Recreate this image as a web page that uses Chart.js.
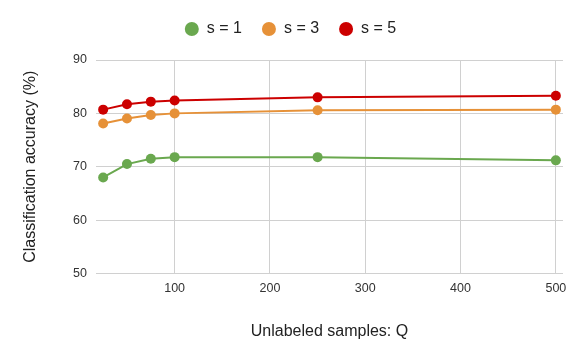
<!DOCTYPE html>
<html>
<head>
<meta charset="utf-8">
<script src="https://cdn.jsdelivr.net/npm/chart.js@4"></script>
<style>
  html, body { margin: 0; padding: 0; background: #fff; }
  #wrap { width: 581px; height: 362px; }
</style>
</head>
<body>
<div id="wrap"><canvas id="chart" width="581" height="362"></canvas></div>
<script>
  /* Data */
  const Q = [25, 50, 75, 100, 250, 500];
  const S1 = [68.0, 70.5, 71.5, 71.8, 71.8, 71.2];
  const S3 = [78.1, 79.05, 79.7, 80.0, 80.6, 80.7];
  const S5 = [80.7, 81.7, 82.2, 82.4, 83.0, 83.3];
  const X_TICKS = [100, 200, 300, 400, 500];
  const Y_TICKS = [50, 60, 70, 80, 90];

  const FONT = 'Arial, "Liberation Sans", sans-serif';

  function series(label, ys, color) {
    return {
      label: label,
      data: Q.map(function (q, i) { return { x: q, y: ys[i] }; }),
      borderColor: color,
      backgroundColor: color,
      pointBackgroundColor: color,
      pointBorderColor: color,
      borderWidth: 2,
      pointRadius: 5,
      pointBorderWidth: 0,
      tension: 0
    };
  }

  /* legend: fixed height, and centred on the whole canvas rather than the padded box */
  const legendBox = {
    id: 'legendBox',
    afterInit: function (chart) {
      const orig = chart.legend.fit;
      chart.legend.fit = function () {
        orig.call(this);
        this.height = 59;
      };
    },
    afterLayout: function (chart) {
      chart.legend.left += 9;
      chart.legend.right += 9;
    }
  };

  new Chart(document.getElementById('chart'), {
    type: 'line',
    data: {
      datasets: [
        series('s = 1', S1, '#6aa84f'),
        series('s = 3', S3, '#e69138'),
        series('s = 5', S5, '#cc0000')
      ]
    },
    plugins: [legendBox],
    options: {
      responsive: false,
      animation: false,
      layout: { padding: { left: 0, right: 18, top: 1, bottom: 0 } },
      plugins: {
        tooltip: { enabled: false },
        legend: {
          position: 'top',
          labels: {
            usePointStyle: true,
            pointStyle: 'circle',
            boxHeight: 10,
            pointStyleWidth: 14,
            padding: 20,
            color: '#222',
            font: { family: FONT, size: 16 }
          }
        }
      },
      scales: {
        x: {
          type: 'linear',
          min: 17.5,
          max: 507.5,
          afterBuildTicks: function (scale) {
            scale.ticks = X_TICKS.map(function (v) { return { value: v }; });
          },
          afterFit: function (scale) { scale.height = 88.5; },
          border: { display: false },
          grid: { color: '#d0d0d0', lineWidth: 1, drawTicks: false },
          ticks: { color: '#333', padding: 8, maxRotation: 0, font: { family: FONT, size: 12.5 } },
          title: {
            display: true,
            text: 'Unlabeled samples: Q',
            color: '#222',
            padding: { top: 0, bottom: 21 },
            font: { family: FONT, size: 16 }
          }
        },
        y: {
          min: 50,
          max: 90,
          afterBuildTicks: function (scale) {
            scale.ticks = Y_TICKS.map(function (v) { return { value: v }; });
          },
          afterFit: function (scale) { scale.width = 96; },
          border: { display: false },
          grid: { color: '#d0d0d0', lineWidth: 1, drawTicks: false },
          ticks: { color: '#333', padding: 9, font: { family: FONT, size: 12.5 } },
          title: {
            display: true,
            text: 'Classification accuracy (%)',
            color: '#222',
            padding: { top: 21, bottom: 0 },
            font: { family: FONT, size: 16 }
          }
        }
      }
    }
  });
</script>
</body>
</html>
